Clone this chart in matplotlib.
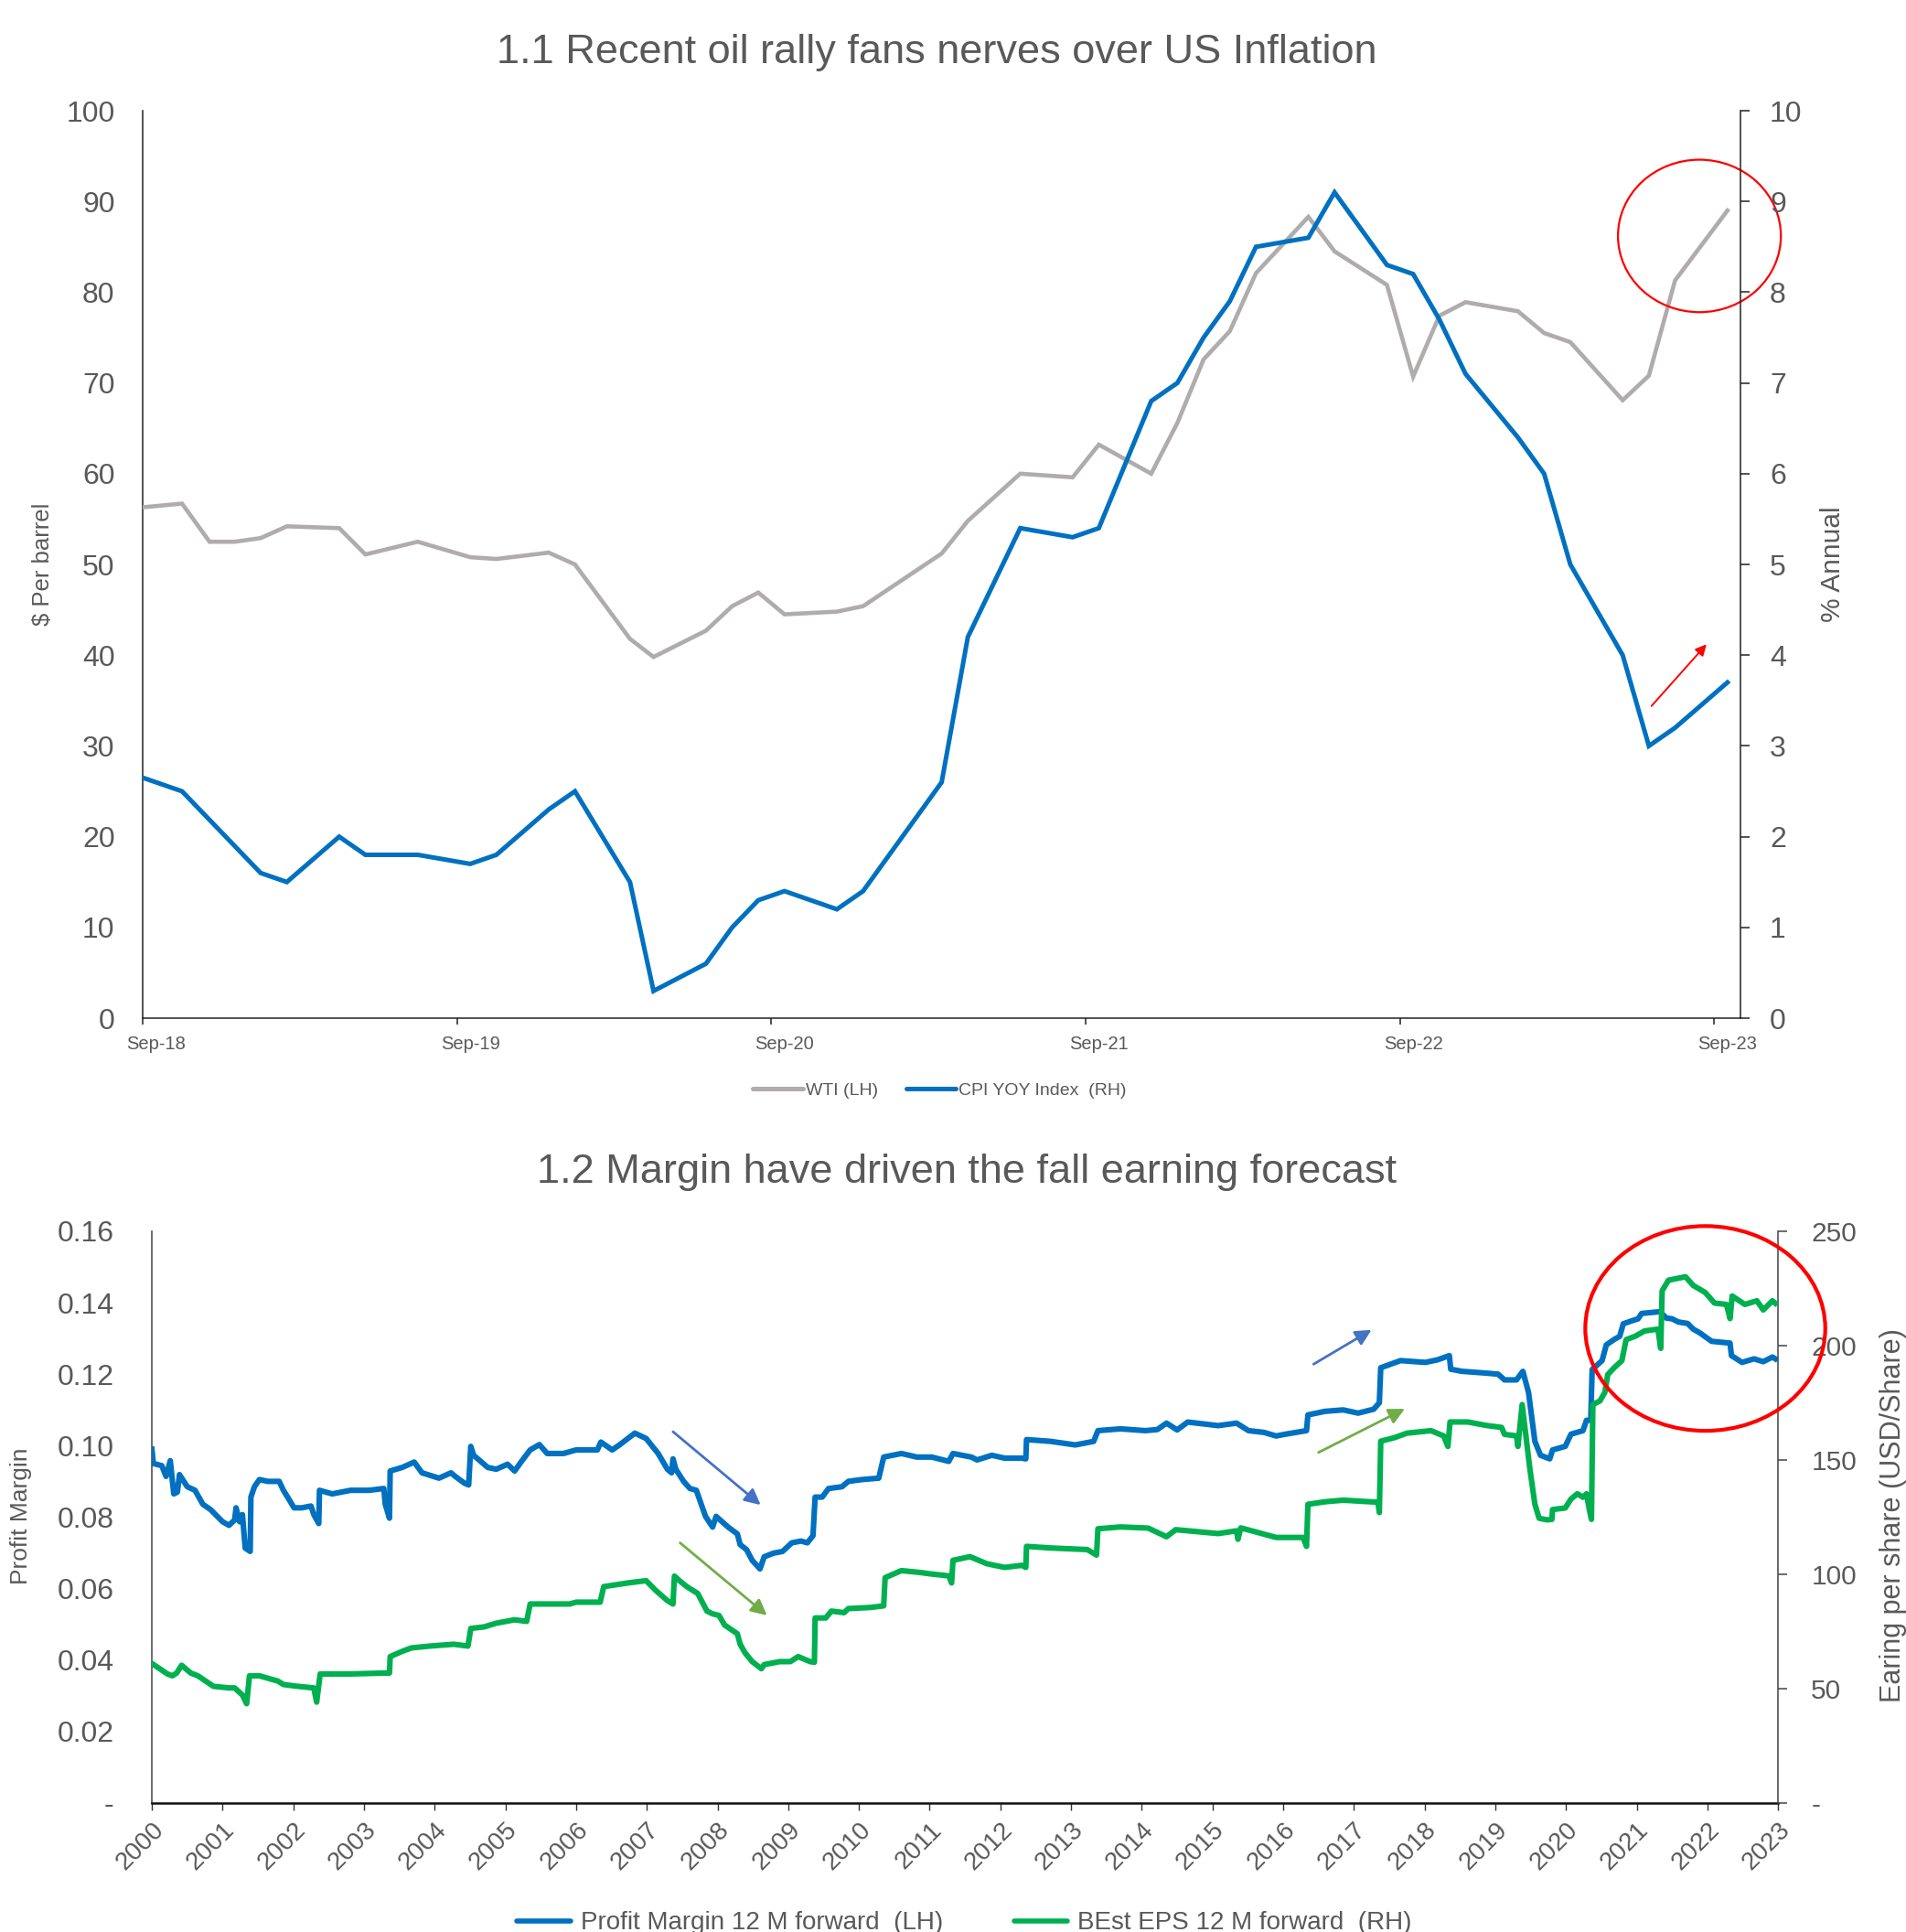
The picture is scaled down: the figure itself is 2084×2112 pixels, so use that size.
import matplotlib
matplotlib.use("Agg")
import matplotlib.pyplot as plt
from matplotlib.patches import Ellipse
from matplotlib.lines import Line2D
import numpy as np

plt.rcParams['font.family'] = ['Liberation Sans', 'DejaVu Sans']

TXT = '#595959'
GRAY = '#B0ACAC'
BLUE = '#0070C0'
GREEN = '#00B050'

# ---------------- Chart 1.1 data (months since Sep-2018) ----------------
wti_month = [0, 1.5, 2.55, 3.5, 4.5, 5.5, 7.5, 8.5, 10.5, 12.5, 13.5, 15.5, 16.5,
             18.6, 19.5, 21.5, 22.5, 23.5, 24.5, 26.5, 27.5, 30.5, 31.5, 33.5,
             35.5, 36.5, 38.5, 39.5, 40.5, 41.5, 42.5, 44.5, 45.5, 47.5, 48.5,
             49.5, 50.5, 52.5, 53.5, 54.5, 56.5, 57.5, 58.5, 60.5]
wti_usd = [56.3, 56.7, 52.5, 52.5, 52.9, 54.2, 54.0, 51.1, 52.5, 50.8, 50.6, 51.3, 50.0,
           41.8, 39.8, 42.7, 45.4, 46.9, 44.5, 44.8, 45.4, 51.2, 54.8, 60.0,
           59.6, 63.2, 60.0, 65.6, 72.6, 75.7, 82.1, 88.3, 84.5, 80.8, 70.7,
           77.4, 78.9, 77.9, 75.5, 74.5, 68.1, 70.8, 81.3, 89.0]

cpi_month = [0, 1.5, 4.5, 5.5, 7.5, 8.5, 10.5, 12.5, 13.5, 15.5, 16.5, 18.6, 19.5,
             21.5, 22.5, 23.5, 24.5, 26.5, 27.5, 30.5, 31.5, 33.5, 35.5, 36.5,
             38.5, 39.5, 40.5, 41.5, 42.5, 44.5, 45.5, 47.5, 48.5, 49.5, 50.5,
             52.5, 53.5, 54.5, 56.5, 57.5, 58.5, 60.5]
cpi_yoy = [2.65, 2.5, 1.6, 1.5, 2.0, 1.8, 1.8, 1.7, 1.8, 2.3, 2.5, 1.5, 0.3,
           0.6, 1.0, 1.3, 1.4, 1.2, 1.4, 2.6, 4.2, 5.4, 5.3, 5.4,
           6.8, 7.0, 7.5, 7.9, 8.5, 8.6, 9.1, 8.3, 8.2, 7.7, 7.1,
           6.4, 6.0, 5.0, 4.0, 3.0, 3.2, 3.7]

sep_ticks = [0, 12, 24, 36, 48, 60]
sep_labels = ['Sep-18', 'Sep-19', 'Sep-20', 'Sep-21', 'Sep-22', 'Sep-23']

# ---------------- Chart 1.2 data (decimal year) ----------------
pm_year = [2000.00, 2000.02, 2000.14, 2000.20, 2000.26, 2000.29, 2000.31, 2000.36, 2000.39,
           2000.50, 2000.61, 2000.72, 2000.83, 2001.00, 2001.09, 2001.17, 2001.19, 2001.24,
           2001.28, 2001.32, 2001.39, 2001.40, 2001.45, 2001.52, 2001.64, 2001.80, 2001.86,
           2001.95, 2002.01, 2002.12, 2002.25, 2002.29, 2002.36, 2002.37, 2002.55, 2002.81,
           2003.07, 2003.28, 2003.30, 2003.36, 2003.37, 2003.54, 2003.71, 2003.82, 2004.06,
           2004.23, 2004.29, 2004.42, 2004.48, 2004.51, 2004.55, 2004.75, 2004.87, 2005.03,
           2005.13, 2005.22, 2005.35, 2005.48, 2005.59, 2005.82, 2006.00, 2006.30, 2006.35,
           2006.51, 2006.62, 2006.83, 2006.99, 2007.16, 2007.29, 2007.35, 2007.37, 2007.41,
           2007.52, 2007.61, 2007.70, 2007.83, 2007.93, 2007.98, 2008.15, 2008.28, 2008.32,
           2008.41, 2008.49, 2008.60, 2008.66, 2008.79, 2008.92, 2009.05, 2009.18, 2009.27,
           2009.35, 2009.38, 2009.48, 2009.57, 2009.76, 2009.85, 2010.04, 2010.28, 2010.35,
           2010.60, 2010.82, 2011.03, 2011.27, 2011.33, 2011.59, 2011.67, 2011.88, 2012.06,
           2012.30, 2012.36, 2012.37, 2012.71, 2013.06, 2013.32, 2013.38, 2013.70, 2014.05,
           2014.22, 2014.35, 2014.50, 2014.65, 2015.08, 2015.34, 2015.51, 2015.73, 2015.90,
           2016.03, 2016.33, 2016.35, 2016.59, 2016.85, 2017.06, 2017.28, 2017.36, 2017.38,
           2017.66, 2018.01, 2018.18, 2018.35, 2018.37, 2018.53, 2018.87, 2019.04, 2019.13,
           2019.30, 2019.39, 2019.47, 2019.56, 2019.64, 2019.77, 2019.81, 2019.99, 2020.07,
           2020.24, 2020.29, 2020.35, 2020.37, 2020.51, 2020.57, 2020.68, 2020.76, 2020.81,
           2020.94, 2021.02, 2021.07, 2021.33, 2021.42, 2021.50, 2021.59, 2021.72, 2021.80,
           2021.89, 2022.06, 2022.32, 2022.34, 2022.49, 2022.66, 2022.79, 2022.92, 2022.96]
pm_value = [0.0990, 0.0950, 0.0944, 0.0914, 0.0958, 0.0900, 0.0865, 0.0870, 0.0919,
            0.0885, 0.0875, 0.0836, 0.0821, 0.0787, 0.0777, 0.0792, 0.0826, 0.0787,
            0.0807, 0.0713, 0.0704, 0.0856, 0.0885, 0.0905, 0.0900, 0.0900, 0.0875,
            0.0846, 0.0826, 0.0826, 0.0831, 0.0807, 0.0782, 0.0875, 0.0865, 0.0875,
            0.0875, 0.0880, 0.0836, 0.0797, 0.0929, 0.0939, 0.0954, 0.0924, 0.0909,
            0.0924, 0.0914, 0.0895, 0.0890, 0.0998, 0.0973, 0.0939, 0.0934, 0.0948,
            0.0929, 0.0954, 0.0988, 0.1003, 0.0978, 0.0978, 0.0988, 0.0988, 0.1010,
            0.0988, 0.1003, 0.1035, 0.1020, 0.0978, 0.0934, 0.0924, 0.0963, 0.0934,
            0.0900, 0.0880, 0.0875, 0.0802, 0.0772, 0.0802, 0.0772, 0.0753, 0.0723,
            0.0709, 0.0679, 0.0655, 0.0689, 0.0699, 0.0704, 0.0728, 0.0733, 0.0728,
            0.0748, 0.0856, 0.0856, 0.0880, 0.0885, 0.0900, 0.0905, 0.0909, 0.0968,
            0.0978, 0.0968, 0.0968, 0.0956, 0.0978, 0.0968, 0.0960, 0.0973, 0.0965,
            0.0965, 0.0963, 0.1017, 0.1012, 0.1002, 0.1012, 0.1042, 0.1047, 0.1042,
            0.1045, 0.1063, 0.1044, 0.1066, 0.1056, 0.1063, 0.1042, 0.1037, 0.1027,
            0.1032, 0.1042, 0.1086, 0.1096, 0.1100, 0.1091, 0.1102, 0.1120, 0.1218,
            0.1238, 0.1233, 0.1240, 0.1252, 0.1214, 0.1208, 0.1203, 0.1200, 0.1184,
            0.1184, 0.1208, 0.1149, 0.1012, 0.0973, 0.0963, 0.0988, 0.0998, 0.1032,
            0.1042, 0.1071, 0.1071, 0.1213, 0.1238, 0.1282, 0.1297, 0.1306, 0.1341,
            0.1350, 0.1355, 0.1370, 0.1375, 0.1357, 0.1355, 0.1346, 0.1342, 0.1326,
            0.1316, 0.1292, 0.1287, 0.1252, 0.1233, 0.1243, 0.1235, 0.1248, 0.1243]

eps_year = [2000.00, 2000.22, 2000.29, 2000.35, 2000.42, 2000.55, 2000.65, 2000.87, 2001.09,
            2001.17, 2001.28, 2001.34, 2001.38, 2001.52, 2001.78, 2001.86, 2002.03, 2002.29,
            2002.33, 2002.38, 2002.81, 2003.28, 2003.36, 2003.37, 2003.54, 2003.67, 2003.93,
            2004.27, 2004.47, 2004.51, 2004.70, 2004.87, 2005.13, 2005.30, 2005.35, 2005.91,
            2006.00, 2006.34, 2006.39, 2006.73, 2006.99, 2007.12, 2007.29, 2007.37, 2007.39,
            2007.48, 2007.57, 2007.72, 2007.85, 2007.93, 2008.02, 2008.10, 2008.28, 2008.32,
            2008.39, 2008.49, 2008.62, 2008.66, 2008.88, 2009.03, 2009.14, 2009.31, 2009.37,
            2009.38, 2009.53, 2009.61, 2009.79, 2009.85, 2010.17, 2010.35, 2010.37, 2010.60,
            2010.86, 2011.03, 2011.27, 2011.31, 2011.33, 2011.57, 2011.81, 2012.06, 2012.30,
            2012.36, 2012.37, 2012.71, 2013.23, 2013.36, 2013.38, 2013.70, 2014.09, 2014.35,
            2014.48, 2015.08, 2015.34, 2015.36, 2015.40, 2015.90, 2016.28, 2016.33, 2016.35,
            2016.59, 2016.85, 2017.23, 2017.34, 2017.36, 2017.38, 2017.57, 2017.75, 2018.09,
            2018.27, 2018.33, 2018.36, 2018.61, 2018.87, 2019.09, 2019.13, 2019.30, 2019.32,
            2019.38, 2019.43, 2019.49, 2019.56, 2019.62, 2019.73, 2019.80, 2019.81, 2019.99,
            2020.07, 2020.16, 2020.24, 2020.29, 2020.33, 2020.36, 2020.38, 2020.48, 2020.55,
            2020.59, 2020.68, 2020.79, 2020.85, 2020.98, 2021.11, 2021.30, 2021.34, 2021.36,
            2021.45, 2021.58, 2021.69, 2021.80, 2021.97, 2022.10, 2022.27, 2022.32, 2022.35,
            2022.53, 2022.70, 2022.79, 2022.92, 2022.96]
eps_value = [61.0, 56.4, 55.6, 56.8, 60.2, 56.8, 55.6, 51.0, 50.3,
             50.3, 47.2, 43.4, 55.6, 55.6, 53.3, 51.8, 51.1, 50.3,
             44.1, 56.4, 56.4, 56.8, 56.8, 64.0, 66.3, 67.8, 68.6,
             69.4, 68.6, 76.3, 77.0, 78.6, 80.1, 79.4, 87.0, 87.0,
             87.8, 87.8, 94.6, 96.2, 97.2, 93.1, 88.5, 87.0, 99.2,
             96.7, 94.5, 91.6, 83.9, 82.7, 82.0, 77.8, 74.0, 69.4,
             65.6, 61.8, 58.7, 60.5, 61.8, 61.8, 64.0, 61.8, 61.5,
             80.9, 80.9, 83.9, 83.2, 85.0, 85.5, 86.2, 98.5, 101.6,
             100.8, 100.1, 99.3, 96.2, 106.1, 107.7, 104.6, 103.0, 103.9,
             103.0, 112.2, 111.5, 110.8, 108.4, 119.9, 120.7, 120.2, 116.4,
             119.5, 117.8, 119.0, 115.3, 120.3, 116.1, 116.1, 112.2, 130.6,
             131.7, 132.4, 131.7, 131.5, 127.0, 158.2, 159.7, 161.7, 162.8,
             160.5, 155.9, 166.6, 166.6, 165.1, 164.2, 161.2, 160.5, 155.9,
             174.2, 161.2, 145.9, 130.6, 124.5, 123.8, 124.0, 128.3, 129.0,
             132.9, 135.2, 133.7, 135.2, 128.3, 124.0, 174.2, 175.8, 179.6,
             187.3, 190.3, 193.4, 202.6, 204.1, 206.4, 207.2, 198.8, 224.0,
             228.6, 229.4, 230.1, 226.3, 223.2, 218.6, 218.0, 211.8, 221.7,
             218.0, 219.6, 215.6, 219.6, 218.5]

year_ticks = list(range(2000, 2024))

fig = plt.figure(figsize=(20.84, 21.12), dpi=100)

# ======================= Chart 1.1 =======================
ax1 = fig.add_axes([0.0749, 0.4730, 0.8383, 0.4697])
ax1r = ax1.twinx()

ax1.plot(wti_month, wti_usd, color=GRAY, lw=3.3, solid_joinstyle='miter', zorder=3)
ax1r.plot(cpi_month, cpi_yoy, color=BLUE, lw=3.6, solid_joinstyle='miter', zorder=3)

ax1.set_xlim(0, 61)
ax1.set_ylim(0, 100)
ax1r.set_ylim(0, 10)
ax1.set_yticks(range(0, 101, 10))
ax1r.set_yticks(range(0, 11))
# tick marks on the September boundaries, labels centred on the month itself
ax1.set_xticks(sep_ticks)
ax1.set_xticklabels([''] * len(sep_ticks))
ax1.set_xticks([m + 0.5 for m in sep_ticks], minor=True)
ax1.set_xticklabels(sep_labels, minor=True)

for a in (ax1, ax1r):
    a.spines['top'].set_visible(False)
    for s in ('left', 'right', 'bottom'):
        a.spines[s].set_color('#222222')
        a.spines[s].set_linewidth(1.1)
ax1.spines['right'].set_visible(False)
ax1r.spines['left'].set_visible(False)
ax1r.spines['bottom'].set_visible(False)

ax1.tick_params(axis='y', length=0, pad=22, labelsize=23, labelcolor=TXT)
ax1.tick_params(axis='x', which='major', length=5, width=1.1, color='#222222')
ax1.tick_params(axis='x', which='minor', length=0, pad=14, labelsize=14.5,
                labelcolor=TXT)
ax1r.tick_params(axis='y', length=7, width=1.1, color='#222222', pad=16,
                 labelsize=23, labelcolor=TXT)

fig.text(0.0225, 0.708, '$ Per barrel', rotation=90, ha='center', va='center',
         fontsize=18.5, color=TXT)
fig.text(0.9615, 0.708, '% Annual', rotation=90, ha='center', va='center',
         fontsize=21.5, color=TXT)

fig.text(0.4913, 0.973, '1.1 Recent oil rally fans nerves over US Inflation',
         ha='center', va='center', fontsize=32.5, color=TXT)

# highlight of the latest oil move
ax1.add_patch(Ellipse((59.43, 86.2), 6.22, 16.8, fill=False, edgecolor='#FF0000',
                      lw=1.6, clip_on=False, zorder=5))
ax1.annotate('', xy=(59.7, 41.2), xytext=(57.6, 34.4),
             arrowprops=dict(arrowstyle='-|>', color='#FF0000', lw=1.4,
                             mutation_scale=18, shrinkA=0, shrinkB=0), zorder=5)

top_handles = [Line2D([], [], color=GRAY, lw=3.6, solid_capstyle='round'),
               Line2D([], [], color=BLUE, lw=3.6, solid_capstyle='round')]
fig.legend(top_handles, ['WTI (LH)', 'CPI YOY Index  (RH)'], loc='center',
           bbox_to_anchor=(0.493, 0.4356), ncol=2, frameon=False, fontsize=14,
           labelcolor=TXT, handlelength=2.8, handletextpad=0.15, columnspacing=1.6)

# ======================= Chart 1.2 =======================
ax2 = fig.add_axes([0.0797, 0.0668, 0.8532, 0.2959])
ax2r = ax2.twinx()

ax2.plot(pm_year, pm_value, color=BLUE, lw=4.4, solid_joinstyle='round', zorder=3)
ax2r.plot(eps_year, eps_value, color=GREEN, lw=4.4, solid_joinstyle='round', zorder=3)

ax2.set_xlim(2000, 2023)
ax2.set_ylim(0, 0.16)
ax2r.set_ylim(0, 250)
ax2.set_xticks(year_ticks)
ax2.set_xticklabels([str(y) for y in year_ticks], rotation=45, ha='right',
                    va='top', rotation_mode='anchor')
pm_ticks = [0, 0.02, 0.04, 0.06, 0.08, 0.10, 0.12, 0.14, 0.16]
ax2.set_yticks(pm_ticks)
ax2.set_yticklabels(['-'] + ['%.2f' % v for v in pm_ticks[1:]])
eps_ticks = [0, 50, 100, 150, 200, 250]
ax2r.set_yticks(eps_ticks)
ax2r.set_yticklabels(['-'] + [str(v) for v in eps_ticks[1:]])

for a in (ax2, ax2r):
    a.spines['top'].set_visible(False)
    for s in ('left', 'right', 'bottom'):
        a.spines[s].set_color('#444444')
        a.spines[s].set_linewidth(1.1)
ax2.spines['right'].set_visible(False)
ax2r.spines['left'].set_visible(False)
ax2r.spines['bottom'].set_visible(False)
ax2.spines['bottom'].set_color('#111111')
ax2.spines['bottom'].set_linewidth(1.8)

ax2.tick_params(axis='y', length=0, pad=30, labelsize=23, labelcolor=TXT)
ax2.tick_params(axis='x', length=6, width=1.0, color='#333333', pad=6,
                labelsize=20, labelcolor=TXT)
ax2r.tick_params(axis='y', length=7, width=1.1, color='#444444', pad=19,
                 labelsize=21.5, labelcolor=TXT)

fig.text(0.011, 0.2155, 'Profit Margin', rotation=90, ha='center', va='center',
         fontsize=19, color=TXT)
fig.text(0.9935, 0.2155, 'Earing per share (USD/Share)', rotation=90, ha='center',
         va='center', fontsize=22, color=TXT)

fig.text(0.507, 0.393, '1.2 Margin have driven the fall earning forecast',
         ha='center', va='center', fontsize=32.5, color=TXT)

# trend arrows and highlight
ax2.annotate('', xy=(2008.61, 0.0834), xytext=(2007.37, 0.1039),
             arrowprops=dict(arrowstyle='-|>', color='#4472C4', lw=2.0,
                             mutation_scale=26, shrinkA=0, shrinkB=0), zorder=5)
ax2.annotate('', xy=(2008.70, 0.0525), xytext=(2007.47, 0.0728),
             arrowprops=dict(arrowstyle='-|>', color='#70AD47', lw=2.0,
                             mutation_scale=26, shrinkA=0, shrinkB=0), zorder=5)
ax2.annotate('', xy=(2017.25, 0.1324), xytext=(2016.43, 0.1228),
             arrowprops=dict(arrowstyle='-|>', color='#4472C4', lw=2.0,
                             mutation_scale=26, shrinkA=0, shrinkB=0), zorder=5)
ax2.annotate('', xy=(2017.72, 0.1103), xytext=(2016.50, 0.0981),
             arrowprops=dict(arrowstyle='-|>', color='#70AD47', lw=2.0,
                             mutation_scale=26, shrinkA=0, shrinkB=0), zorder=5)
ax2r.add_patch(Ellipse((2021.97, 0.1328 / 0.16 * 250), 3.394, 0.0573 / 0.16 * 250,
                       fill=False, edgecolor='#FF0000', lw=3.0, clip_on=False, zorder=6))

bottom_handles = [Line2D([], [], color=BLUE, lw=4.0, solid_capstyle='round'),
                  Line2D([], [], color=GREEN, lw=4.0, solid_capstyle='round')]
fig.legend(bottom_handles, ['Profit Margin 12 M forward  (LH)', 'BEst EPS 12 M forward  (RH)'],
           loc='center', bbox_to_anchor=(0.506, 0.0045), ncol=2, frameon=False,
           fontsize=20, labelcolor=TXT, handlelength=2.1, handletextpad=0.4,
           columnspacing=2.8)

fig.savefig('out.png', dpi=100)
